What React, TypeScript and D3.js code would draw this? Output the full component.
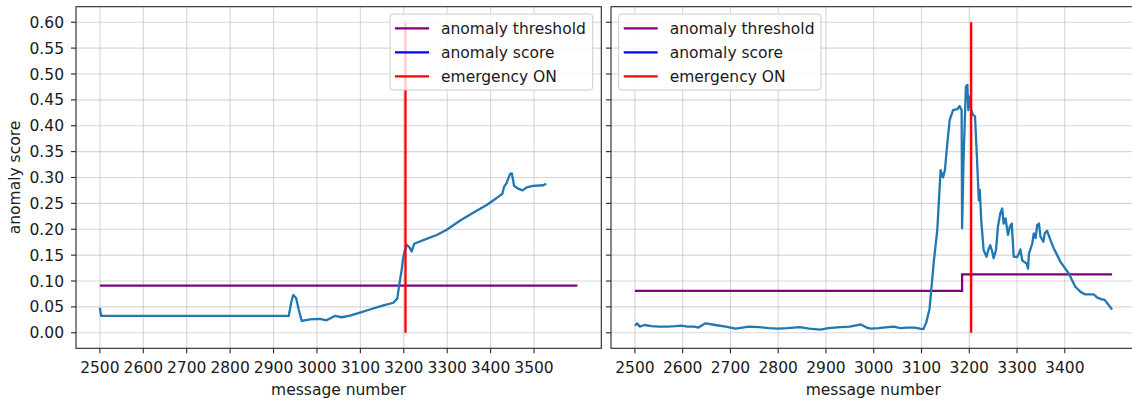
import React from "react";
import * as d3 from "d3";

// ---- data ----
const leftScoreX = [2500, 2503, 2600, 2700, 2800, 2900, 2935, 2941, 2945.5, 2952, 2958, 2965, 2984, 3007, 3022, 3041, 3057, 3076, 3099, 3122, 3153, 3176, 3185, 3190, 3195, 3199, 3203, 3207, 3213, 3218, 3224, 3245, 3276, 3299, 3330, 3360, 3391, 3410, 3423, 3427, 3431, 3436, 3445, 3449, 3454, 3462, 3474, 3483, 3498, 3521, 3528];
const leftScoreY = [0.048, 0.0325, 0.0325, 0.0325, 0.0325, 0.0325, 0.0325, 0.06, 0.073, 0.067, 0.045, 0.0228, 0.026, 0.027, 0.024, 0.0325, 0.03, 0.033, 0.039, 0.045, 0.053, 0.058, 0.066, 0.095, 0.121, 0.147, 0.16, 0.17, 0.165, 0.157, 0.172, 0.179, 0.189, 0.199, 0.217, 0.232, 0.247, 0.258, 0.266, 0.268, 0.282, 0.288, 0.307, 0.308, 0.284, 0.279, 0.275, 0.281, 0.284, 0.285, 0.288];
const leftThresholdX = [2500, 3600];
const leftThresholdY = [0.091, 0.091];

const rightScoreX = [2500, 2505, 2510, 2520, 2535, 2550, 2569, 2585, 2597, 2610, 2625, 2633, 2647, 2655, 2668, 2690, 2711, 2725, 2739, 2760, 2780, 2800, 2820, 2845, 2865, 2888, 2905, 2930, 2950, 2973, 2985, 2994, 3010, 3030, 3042, 3056, 3070, 3085, 3097, 3104, 3110, 3117, 3126, 3133, 3140, 3145, 3149, 3154, 3159, 3166, 3175, 3180, 3184, 3185, 3188, 3193, 3196, 3198, 3200, 3204, 3208, 3212, 3215, 3220, 3222, 3225, 3230, 3236, 3241, 3244, 3248, 3251, 3256, 3260, 3265, 3269, 3272, 3276, 3281, 3285, 3289, 3293, 3300, 3304, 3307, 3311, 3315, 3320, 3323, 3325, 3332, 3335, 3339, 3342, 3346, 3349, 3355, 3358, 3363, 3370, 3377, 3384, 3391, 3401, 3408, 3415, 3422, 3433, 3443, 3461, 3468, 3479, 3483, 3489, 3499];
const rightScoreY = [0.014, 0.018, 0.012, 0.015, 0.013, 0.012, 0.012, 0.013, 0.014, 0.012, 0.012, 0.01, 0.018, 0.017, 0.015, 0.012, 0.008, 0.01, 0.012, 0.011, 0.009, 0.008, 0.009, 0.011, 0.008, 0.006, 0.009, 0.011, 0.012, 0.016, 0.01, 0.008, 0.009, 0.011, 0.012, 0.009, 0.01, 0.01, 0.008, 0.007, 0.02, 0.047, 0.14, 0.198, 0.314, 0.3, 0.314, 0.366, 0.411, 0.43, 0.432, 0.438, 0.43, 0.202, 0.334, 0.476, 0.479, 0.43, 0.456, 0.43, 0.421, 0.418, 0.36, 0.256, 0.276, 0.218, 0.16, 0.147, 0.163, 0.169, 0.157, 0.144, 0.16, 0.205, 0.231, 0.24, 0.211, 0.221, 0.189, 0.205, 0.211, 0.147, 0.146, 0.153, 0.161, 0.14, 0.137, 0.134, 0.124, 0.153, 0.173, 0.192, 0.183, 0.208, 0.211, 0.186, 0.176, 0.192, 0.197, 0.179, 0.163, 0.15, 0.137, 0.124, 0.115, 0.102, 0.089, 0.079, 0.074, 0.074, 0.068, 0.064, 0.064, 0.057, 0.045];
const rightThresholdX = [2500, 3185, 3185, 3499];
const rightThresholdY = [0.081, 0.081, 0.113, 0.113];

const emergencyX = 3204;
const emergencyY = [0, 0.6];

const leftXTicks = [2500, 2600, 2700, 2800, 2900, 3000, 3100, 3200, 3300, 3400, 3500];
const rightXTicks = [2500, 2600, 2700, 2800, 2900, 3000, 3100, 3200, 3300, 3400];
const yTicks = [0, 0.05, 0.1, 0.15, 0.2, 0.25, 0.3, 0.35, 0.4, 0.45, 0.5, 0.55, 0.6];
const legendLabels = ["anomaly threshold", "anomaly score", "emergency ON"];
const legendColors = ["#800080", "#0000ff", "#ff0000"];

const FONT = "DejaVu Sans, sans-serif";
const FS = 15.5;
const LW = 2.3;
const TOP = 6.7;
const BOTTOM = 348.3;

type PanelProps = {
  id: string;
  x0: number;
  x1: number;
  domain: [number, number];
  xTicks: number[];
  scoreX: number[];
  scoreY: number[];
  thrX: number[];
  thrY: number[];
  showYLabels: boolean;
  legendX: number;
  legendW: number;
};

function Panel(p: PanelProps) {
  const x = d3.scaleLinear().domain(p.domain).range([p.x0, p.x1]);
  const y = d3.scaleLinear().domain([-0.03, 0.63]).range([BOTTOM, TOP]);
  const line = d3
    .line<[number, number]>()
    .x((d) => x(d[0]))
    .y((d) => y(d[1]));
  const score = p.scoreX.map((v, i) => [v, p.scoreY[i]] as [number, number]);
  const thr = p.thrX.map((v, i) => [v, p.thrY[i]] as [number, number]);
  const emer: [number, number][] = emergencyY.map((v) => [emergencyX, v]);
  const clipId = "clip-" + p.id;
  const lx = p.legendX;
  const ly = 14;
  return (
    <g>
      <defs>
        <clipPath id={clipId}>
          <rect x={p.x0} y={TOP} width={p.x1 - p.x0} height={BOTTOM - TOP} />
        </clipPath>
      </defs>
      <rect x={p.x0} y={TOP} width={p.x1 - p.x0} height={BOTTOM - TOP} fill="#fff" />
      {/* grid */}
      {p.xTicks.map((t) => (
        <line key={"gx" + t} x1={x(t)} x2={x(t)} y1={TOP} y2={BOTTOM} stroke="#b0b0b0" strokeOpacity={0.5} strokeWidth={1.1} />
      ))}
      {yTicks.map((t) => (
        <line key={"gy" + t} x1={p.x0} x2={p.x1} y1={y(t)} y2={y(t)} stroke="#b0b0b0" strokeOpacity={0.5} strokeWidth={1.1} />
      ))}
      <g clipPath={`url(#${clipId})`}>
        <path d={line(thr) || ""} fill="none" stroke="#800080" strokeWidth={LW} />
        <path d={line(score) || ""} fill="none" stroke="#1f77b4" strokeWidth={LW} strokeLinejoin="round" />
        <path d={line(emer) || ""} fill="none" stroke="#ff0000" strokeWidth={LW} />
      </g>
      {/* spines */}
      <rect x={p.x0} y={TOP} width={p.x1 - p.x0} height={BOTTOM - TOP} fill="none" stroke="#262626" strokeWidth={1.1} />
      {/* x ticks */}
      {p.xTicks.map((t) => (
        <g key={"tx" + t}>
          <line x1={x(t)} x2={x(t)} y1={BOTTOM} y2={BOTTOM + 5} stroke="#262626" strokeWidth={1.1} />
          <text x={x(t)} y={BOTTOM + 24.5} textAnchor="middle" fontFamily={FONT} fontSize={FS} fill="#1a1a1a">
            {t}
          </text>
        </g>
      ))}
      {/* y ticks */}
      {yTicks.map((t) => (
        <g key={"ty" + t}>
          <line x1={p.x0 - 5} x2={p.x0} y1={y(t)} y2={y(t)} stroke="#262626" strokeWidth={1.1} />
          {p.showYLabels && (
            <text x={p.x0 - 12} y={y(t)} dy="0.36em" textAnchor="end" fontFamily={FONT} fontSize={FS} fill="#1a1a1a">
              {t.toFixed(2)}
            </text>
          )}
        </g>
      ))}
      <text x={(p.x0 + p.x1) / 2} y={394.5} textAnchor="middle" fontFamily={FONT} fontSize={FS} fill="#1a1a1a">
        message number
      </text>
      {p.showYLabels && (
        <text transform={`translate(20,${(TOP + BOTTOM) / 2}) rotate(-90)`} textAnchor="middle" fontFamily={FONT} fontSize={FS} fill="#1a1a1a">
          anomaly score
        </text>
      )}
      {/* legend */}
      <rect x={lx} y={ly} width={p.legendW} height={76} rx={3} fill="#ffffff" fillOpacity={0.8} stroke="#cccccc" strokeWidth={1} />
      {legendLabels.map((lab, i) => (
        <g key={lab}>
          <line x1={lx + 5} x2={lx + 39} y1={ly + 14.3 + i * 24} y2={ly + 14.3 + i * 24} stroke={legendColors[i]} strokeWidth={LW} />
          <text x={lx + 51} y={ly + 14.3 + i * 24} dy="0.36em" fontFamily={FONT} fontSize={FS} fill="#1a1a1a">
            {lab}
          </text>
        </g>
      ))}
    </g>
  );
}

export default function App() {
  return (
    <svg width={1132} height={402} style={{ position: "absolute", left: 0, top: 0, background: "#fff" }}>
      <rect x={0} y={0} width={1132} height={402} fill="#fff" />
      <Panel
        id="l"
        x0={76}
        x1={601.3}
        domain={[2445, 3655]}
        xTicks={leftXTicks}
        scoreX={leftScoreX}
        scoreY={leftScoreY}
        thrX={leftThresholdX}
        thrY={leftThresholdY}
        showYLabels={true}
        legendX={390}
        legendW={202.7}
      />
      <Panel
        id="r"
        x0={611}
        x1={1135.5}
        domain={[2450, 3548]}
        xTicks={rightXTicks}
        scoreX={rightScoreX}
        scoreY={rightScoreY}
        thrX={rightThresholdX}
        thrY={rightThresholdY}
        showYLabels={false}
        legendX={618.7}
        legendW={202.3}
      />
    </svg>
  );
}
